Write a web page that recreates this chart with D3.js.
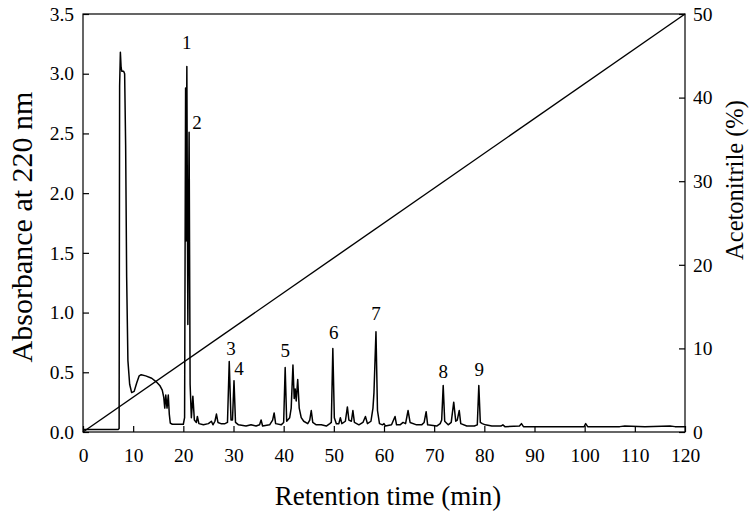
<!DOCTYPE html>
<html lang="en">
<head>
    <meta charset="UTF-8">
    <title>Chromatogram</title>
    <script src="https://d3js.org/d3.v7.min.js"></script>
    <style>
        body { margin: 0; background: #fff; }
        text { font-family: "Liberation Serif", "Times New Roman", serif; fill: #000; }
        .axis path, .axis line { stroke: #000; stroke-width: 1.2; }
        .tick-label { font-size: 19.5px; }
        .peak { font-size: 19px; }
    </style>
</head>
<body>
<div id="fig"></div>
<script>
    // retention time (min) and absorbance at 220 nm
    let rtMin = [0, 7.0, 7.2, 7.3, 7.45, 7.6, 7.75, 8.1, 8.3, 8.5, 8.7, 8.95, 9.3, 9.7, 10.2,
        10.7, 11.2, 11.6, 12.5, 13.7, 14.6, 15.3, 15.8, 16.1, 16.3, 16.5, 16.75, 17.0, 17.2, 17.4, 17.8,
        19.0, 20.0, 20.25, 20.45, 20.55, 20.7, 20.9, 21.15, 21.35, 21.6, 21.9, 22.2, 22.6, 22.8, 23.1,
        24.0, 25.0, 25.6, 25.9, 26.3, 26.6, 26.9, 27.5, 28.3, 28.8, 29.15, 29.5, 29.8, 30.1, 30.4,
        31.0, 32.5, 33.5, 34.5, 35.2, 35.5, 35.8, 37.2, 37.8, 38.1, 38.4, 39.5, 40.0, 40.3, 40.6,
        41.2, 41.5, 41.85, 42.1, 42.3, 42.5, 42.8, 43.1, 43.5, 44.0, 44.8, 45.2, 45.5, 45.8, 46.5,
        47.5, 48.5, 49.2, 49.5, 49.8, 50.1, 50.5, 51.0, 51.3, 51.6, 52.3, 52.7, 53.0, 53.5, 53.8,
        54.1, 55.0, 55.8, 56.3, 56.7, 57.4, 57.8, 58.0, 58.4, 58.7, 59.1, 59.7, 60.0, 60.3, 61.5,
        62.2, 62.5, 63.2, 63.8, 64.3, 64.8, 65.2, 66.5, 67.5, 68.0, 68.4, 68.7, 70.5, 71.2, 71.5,
        71.8, 72.1, 72.8, 73.4, 73.9, 74.3, 74.6, 75.0, 75.3, 76.5, 78.0, 78.6, 78.9, 79.2, 79.6,
        80.2, 81.5, 83.3, 83.7, 84.1, 87.0, 87.4, 87.8, 93.0, 99.9, 100.2, 100.6, 107.0, 108.0,
        112.0, 117.0, 118.0, 120.0]
    let absorbance = [0.02, 0.02, 0.03, 2.9, 3.18, 3.05, 3.02, 3.02, 3.0, 2.4, 1.3, 0.6, 0.4, 0.33, 0.34,
        0.41, 0.47, 0.48, 0.47, 0.45, 0.42, 0.39, 0.35, 0.29, 0.2, 0.31, 0.2, 0.31, 0.15, 0.075, 0.065,
        0.065, 0.065, 0.12, 2.88, 1.6, 3.06, 0.9, 2.51, 0.4, 0.12, 0.30, 0.10, 0.08, 0.13, 0.07,
        0.06, 0.07, 0.09, 0.06, 0.09, 0.15, 0.08, 0.07, 0.07, 0.08, 0.59, 0.10, 0.10, 0.43, 0.08,
        0.06, 0.05, 0.06, 0.05, 0.06, 0.10, 0.05, 0.06, 0.10, 0.16, 0.07, 0.06, 0.08, 0.54, 0.09,
        0.12, 0.20, 0.56, 0.28, 0.36, 0.26, 0.44, 0.20, 0.12, 0.09, 0.07, 0.10, 0.18, 0.08, 0.06,
        0.06, 0.05, 0.07, 0.08, 0.70, 0.12, 0.07, 0.07, 0.12, 0.07, 0.09, 0.21, 0.10, 0.09, 0.18,
        0.08, 0.06, 0.08, 0.13, 0.07, 0.09, 0.20, 0.33, 0.84, 0.18, 0.07, 0.06, 0.07, 0.05, 0.06,
        0.13, 0.06, 0.06, 0.08, 0.07, 0.18, 0.08, 0.06, 0.06, 0.08, 0.17, 0.06, 0.05, 0.07, 0.10,
        0.39, 0.09, 0.06, 0.08, 0.25, 0.09, 0.10, 0.18, 0.07, 0.05, 0.05, 0.06, 0.39, 0.08, 0.07,
        0.06, 0.05, 0.05, 0.06, 0.045, 0.05, 0.07, 0.045, 0.045, 0.045, 0.07, 0.045, 0.045, 0.05,
        0.045, 0.05, 0.045, 0.045]

    // acetonitrile gradient
    let gradientTime = [0, 120]
    let gradientPct = [0, 50]

    // numbered peaks: label centre above each peak (time, absorbance)
    let peakNames = ["1", "2", "3", "4", "5", "6", "7", "8", "9"]
    let peakLabelTime = [20.7, 22.7, 29.5, 31.1, 40.3, 50.0, 58.4, 71.8, 79.0]
    let peakLabelAbs = [3.26, 2.59, 0.70, 0.53, 0.68, 0.83, 0.99, 0.51, 0.52]

    let xTicks = [0, 10, 20, 30, 40, 50, 60, 70, 80, 90, 100, 110, 120]
    let yTicksLeft = [0, 0.5, 1.0, 1.5, 2.0, 2.5, 3.0, 3.5]
    let yTicksRight = [0, 10, 20, 30, 40, 50]

    let W = 754, H = 514
    let mLeft = 83, mRight = 685, mTop = 14, mBottom = 432

    function main() {
        let svg = d3.select("#fig").append("svg")
            .attr("width", W).attr("height", H)

        let xScale = d3.scaleLinear().domain([0, 120]).range([mLeft, mRight])
        let yScale = d3.scaleLinear().domain([0, 3.5]).range([mBottom, mTop])
        let yRight = d3.scaleLinear().domain([0, 50]).range([mBottom, mTop])

        // frame
        svg.append("rect")
            .attr("x", mLeft).attr("y", mTop)
            .attr("width", mRight - mLeft).attr("height", mBottom - mTop)
            .attr("fill", "none").attr("stroke", "#000").attr("stroke-width", 1.2)

        // gradient line
        let grad = gradientTime.map((t, i) => [t, gradientPct[i]])
        svg.append("path")
            .datum(grad)
            .attr("fill", "none").attr("stroke", "#000").attr("stroke-width", 1.4)
            .attr("d", d3.line().x(d => xScale(d[0])).y(d => yRight(d[1])))

        // chromatogram
        let trace = rtMin.map((t, i) => [t, absorbance[i]])
        svg.append("path")
            .datum(trace)
            .attr("fill", "none").attr("stroke", "#000").attr("stroke-width", 1.5)
            .attr("stroke-linejoin", "round")
            .attr("d", d3.line().x(d => xScale(d[0])).y(d => yScale(d[1])))

        // axes: inward tick marks
        svg.append("g").attr("class", "axis")
            .attr("transform", `translate(0,${mBottom})`)
            .call(d3.axisBottom(xScale).tickValues(xTicks).tickSize(-6).tickPadding(16))
        svg.append("g").attr("class", "axis")
            .attr("transform", `translate(${mLeft},0)`)
            .call(d3.axisLeft(yScale).tickValues(yTicksLeft).tickFormat(d3.format(".1f"))
                .tickSize(-6).tickPadding(9))
        svg.append("g").attr("class", "axis")
            .attr("transform", `translate(${mRight},0)`)
            .call(d3.axisRight(yRight).tickValues(yTicksRight).tickSize(-6).tickPadding(8))
        svg.selectAll(".axis .domain").remove()
        svg.selectAll(".axis text").attr("class", "tick-label")

        // peak numbers
        svg.selectAll(".peak")
            .data(peakNames)
            .enter()
            .append("text").attr("class", "peak")
            .attr("x", (d, i) => xScale(peakLabelTime[i]))
            .attr("y", (d, i) => yScale(peakLabelAbs[i]))
            .attr("text-anchor", "middle")
            .attr("dominant-baseline", "central")
            .text(d => d)

        // axis titles
        svg.append("text")
            .attr("x", 388).attr("y", 505)
            .attr("text-anchor", "middle")
            .style("font-size", "27px")
            .text("Retention time (min)")
        svg.append("text")
            .attr("transform", `translate(32,227) rotate(-90)`)
            .attr("text-anchor", "middle")
            .style("font-size", "30px")
            .text("Absorbance at 220 nm")
        svg.append("text")
            .attr("transform", `translate(743,180) rotate(-90)`)
            .attr("text-anchor", "middle")
            .style("font-size", "24.5px")
            .text("Acetonitrile (%)")
    }

    main()
</script>
</body>
</html>
